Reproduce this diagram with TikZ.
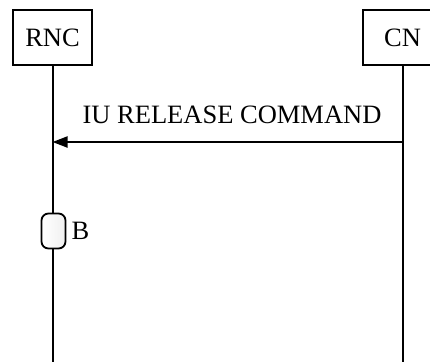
\documentclass[tikz,border=0pt]{standalone}
\usepackage{fontspec}
\setmainfont{Liberation Serif}
\usetikzlibrary{arrows.meta}

\begin{document}
\begin{tikzpicture}[x=1pt, y=1pt, font=\fontsize{26.5}{30}\selectfont,
  entity/.style={draw, line width=1.8pt, minimum width=79pt, minimum height=55pt, inner sep=0pt},
  lifeline/.style={line width=2pt},
  msg/.style={line width=2pt, -{Triangle[length=15pt, width=11pt]}}]
  \useasboundingbox (0,0) rectangle (430,-362);
  \clip (0,0) rectangle (430,-362);
  % Entities
  \node[entity] (rnc) at (52.5,-37.5) {RNC};
  \node[entity] (cn) at (402.5,-37.5) {CN};
  \coordinate (rncEnd) at (52.5,-362);
  \coordinate (cnEnd) at (402.5,-362);
  \draw[lifeline] (rnc.south) -- (rncEnd);
  \draw[lifeline] (cn.south) -- (cnEnd);
  % Message
  \coordinate (cnMsg) at (402.5,-142);
  \coordinate (rncMsg) at (52.5,-142);
  \draw[msg] (cnMsg) -- (rncMsg);
  \node[anchor=base] (msgText) at (232,-123) {IU RELEASE COMMAND};
  % Timer B
  \node[draw, line width=1.8pt, rounded corners=7pt, minimum width=24pt, minimum height=35pt,
        inner sep=0pt, left color=white, right color=black!6] (timerB) at (53.5,-231) {};
  \node[anchor=west, inner sep=0pt] (timerText) at (timerB.east) [xshift=5pt] {B};
\end{tikzpicture}
\end{document}
